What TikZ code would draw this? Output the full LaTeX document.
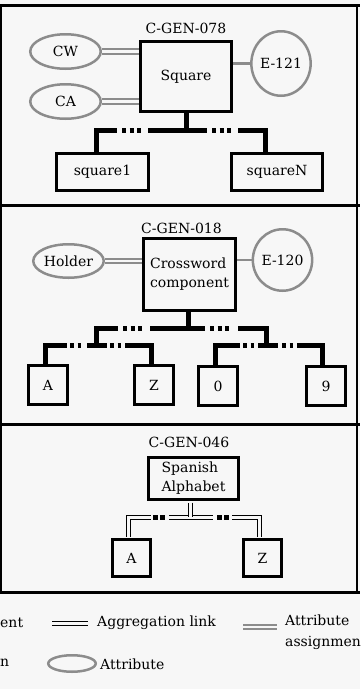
\documentclass[tikz,border=0pt]{standalone}
\usepackage{fontspec}
\setmainfont{DejaVu Serif}
\usetikzlibrary{shapes.geometric}
\definecolor{bgc}{HTML}{F7F7F7}
\definecolor{attgray}{HTML}{8C8C8C}
\begin{document}
\begin{tikzpicture}[x=1pt,y=-1pt,
  lab/.style={font=\fontsize{14}{19}\selectfont, inner sep=0pt},
  bx/.style={draw, line width=3pt, inner sep=0pt, font=\fontsize{14}{19}\selectfont},
  att/.style={ellipse, draw=attgray, line width=2.5pt, inner sep=0pt, font=\fontsize{14}{19}\selectfont},
  asg/.style={draw=attgray, line width=2.2pt, double=bgc, double distance=2.4pt},
  link/.style={draw=attgray, line width=2.2pt},
  agg/.style={draw=black, line width=1.5pt, double=bgc, double distance=2.5pt, line join=miter},
  tree/.style={line width=5pt, line join=miter},
  dotrun/.style={line width=5pt, dash pattern=on 4pt off 3.5pt},
  aggdot/.style={line width=5.5pt, dash pattern=on 5pt off 2pt},
  framel/.style={line width=3pt}
]
\useasboundingbox (0,0) rectangle (360,689);
\fill[bgc] (0,0) rectangle (360,689);

% frame
\draw[line width=1.5pt] (1,5.5) -- (1,592.5);
\draw[line width=1.5pt] (357,5.5) -- (357,592.5);
\draw[framel] (0,5.5) -- (360,5.5);
\draw[framel] (0,205.5) -- (360,205.5);
\draw[framel] (0,424) -- (360,424);
\draw[framel] (0,592.5) -- (360,592.5);

% ---------- panel 1
\node[lab] (g1) at (186,28) {C-GEN-078};
\node[bx, minimum width=91pt, minimum height=70pt] (sq) at (186,76.5) {Square};
\node[att, minimum width=70.5pt, minimum height=34.5pt] (cw) at (65.5,51.5) {CW};
\node[att, minimum width=70.5pt, minimum height=34.5pt] (ca) at (65.5,101.5) {CA};
\node[att, minimum width=57.5pt, minimum height=64.5pt] (e121) at (281,63.5) {E-121};
\node[bx, minimum width=92pt, minimum height=37pt] (sq1) at (102.5,172) {square1};
\node[bx, minimum width=91pt, minimum height=37pt] (sqN) at (277,172) {squareN};

\draw[asg] (cw.east) -- (cw.east -| sq.west);
\draw[asg] (ca.east) -- (ca.east -| sq.west);
\draw[link] (e121.west) -- (e121.west -| sq.east);

\coordinate (j1) at (186,130.5);
\coordinate (l1) at (96.5,130.5);
\coordinate (r1) at (265.5,130.5);
\draw[tree] (sq.south) -- (j1);
\draw[tree] (l1 |- sq1.north) -- (l1) -- (117,130.5);
\draw[dotrun] (122,130.5) -- (141,130.5);
\draw[tree] (148,130.5) -- (207,130.5);
\draw[dotrun] (212,130.5) -- (231,130.5);
\draw[tree] (238,130.5) -- (r1) -- (r1 |- sqN.north);

% ---------- panel 2
\node[lab] (g2) at (181.5,228) {C-GEN-018};
\node[bx, minimum width=92pt, minimum height=72pt, align=left] (cc) at (189.5,274.5) {Crossword\\component};
\node[att, minimum width=70.5pt, minimum height=33.5pt] (hold) at (68.5,261) {Holder};
\node[att, minimum width=58.5pt, minimum height=61.5pt] (e120) at (282.5,260) {E-120};
\node[bx, minimum size=39pt] (a2) at (48,385) {A};
\node[bx, minimum size=39pt] (z2) at (154,385) {Z};
\node[bx, minimum size=39pt] (o2) at (218,386) {0};
\node[bx, minimum size=39pt] (n2) at (326,386) {9};

\draw[asg] (hold.east) -- (hold.east -| cc.west);
\draw[link] (e120.west) -- (e120.west -| cc.east);

\coordinate (j2) at (188,328);
\coordinate (lu) at (96.5,328);
\coordinate (ru) at (266,328);
\coordinate (ll) at (96.5,345.5);
\coordinate (rl) at (266,345.5);
\draw[tree] (j2 |- cc.south) -- (j2);
\draw[tree] (ll) -- (lu) -- (118,328);
\draw[dotrun] (123,328) -- (142,328);
\draw[tree] (150,328) -- (205,328);
\draw[dotrun] (210,328) -- (229,328);
\draw[tree] (238,328) -- (ru) -- (rl);

\coordinate (lla) at (45.5,345.5);
\coordinate (llb) at (151,345.5);
\draw[tree] (lla |- a2.north) -- (lla) -- (67,345.5);
\draw[dotrun] (70,345.5) -- (81,345.5);
\draw[tree] (87,345.5) -- (107,345.5);
\draw[dotrun] (110,345.5) -- (121,345.5);
\draw[tree] (125,345.5) -- (llb) -- (llb |- z2.north);

\coordinate (lra) at (215.5,345.5);
\coordinate (lrb) at (322.5,345.5);
\draw[tree] (lra |- o2.north) -- (lra) -- (240,345.5);
\draw[dotrun] (243,345.5) -- (254,345.5);
\draw[tree] (258,345.5) -- (278,345.5);
\draw[dotrun] (282,345.5) -- (293,345.5);
\draw[tree] (297,345.5) -- (lrb) -- (lrb |- n2.north);

% ---------- panel 3
\node[lab] (g3) at (189,442) {C-GEN-046};
\node[bx, minimum width=90pt, minimum height=42pt, align=left] (sa) at (193.5,478.5) {Spanish\\Alphabet};
\node[bx, minimum width=38pt, minimum height=37pt] (a3) at (131.5,558) {A};
\node[bx, minimum width=38pt, minimum height=37pt] (z3) at (262.5,558) {Z};

\coordinate (l3) at (128.5,517.5);
\coordinate (r3) at (259.5,517.5);
\coordinate (j3) at (190.5,516.5);
\draw[agg, shorten <=1.5pt] (l3 |- a3.north) -- (l3) -- (151,517.5);
\draw[aggdot] (153,517.5) -- (165,517.5);
\draw[agg] (169,517.5) -- (213,517.5);
\draw[aggdot] (217,517.5) -- (229,517.5);
\draw[agg, shorten >=1.5pt] (232,517.5) -- (r3) -- (r3 |- z3.north);
\draw[agg, shorten <=1.5pt] (j3 |- sa.south) -- (j3);

% ---------- legend
\node[lab, anchor=west] (lg1) at (0,623) {ent};
\coordinate (ag1) at (52,623.5);
\coordinate (ag2) at (88,623.5);
\draw[agg] (ag1) -- (ag2);
\node[lab, anchor=west] (lg2) at (97,623) {Aggregation link};
\coordinate (as1) at (243,627);
\coordinate (as2) at (277,627);
\draw[asg] (as1) -- (as2);
\node[lab, anchor=west, align=left] (lg3) at (285,632.5) {Attribute\\[2pt]assignmen};
\node[lab, anchor=west] (lg4) at (0,663) {n};
\node[att, minimum width=47.5pt, minimum height=16.5pt] (lg5) at (72,663.5) {};
\node[lab, anchor=west] (lg6) at (100,664) {Attribute};
\end{tikzpicture}
\end{document}
